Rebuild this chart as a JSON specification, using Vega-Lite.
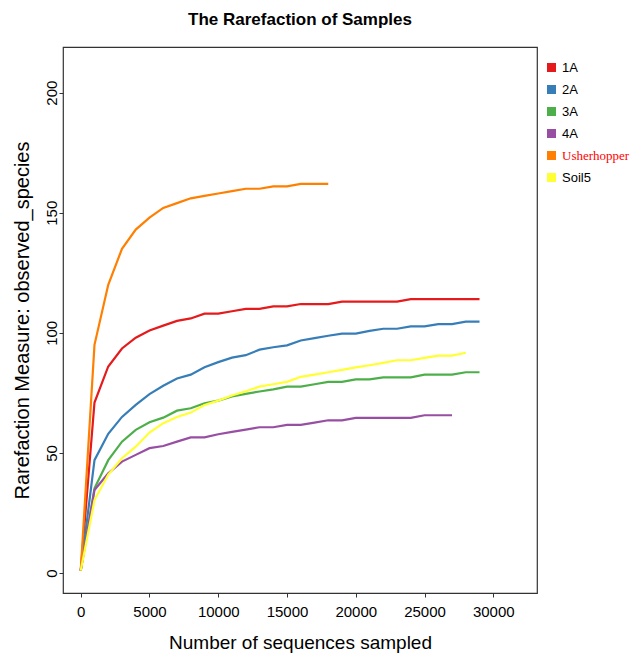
{
  "$schema": "https://vega.github.io/schema/vega-lite/v6.json",
  "autosize": "none",
  "width": 474,
  "height": 546,
  "padding": {"left": 63, "top": 47, "right": 96, "bottom": 67},
  "background": "white",
  "config": {
    "font": "Liberation Sans",
    "view": {"stroke": "#333333", "strokeWidth": 1.2}
  },
  "title": {
    "text": "The Rarefaction of Samples",
    "fontSize": 17,
    "fontWeight": "bold",
    "font": "Liberation Sans",
    "color": "black",
    "anchor": "middle",
    "offset": 18
  },
  "data": {
    "values": [
      {"s":"1A","x":0,"y":1},{"s":"1A","x":1000,"y":71},{"s":"1A","x":2000,"y":86},{"s":"1A","x":3000,"y":93.5},{"s":"1A","x":4000,"y":98},{"s":"1A","x":5000,"y":101},{"s":"1A","x":6000,"y":103},{"s":"1A","x":7000,"y":105},{"s":"1A","x":8000,"y":106},{"s":"1A","x":9000,"y":108},{"s":"1A","x":10000,"y":108},{"s":"1A","x":11000,"y":109},{"s":"1A","x":12000,"y":110},{"s":"1A","x":13000,"y":110},{"s":"1A","x":14000,"y":111},{"s":"1A","x":15000,"y":111},{"s":"1A","x":16000,"y":112},{"s":"1A","x":17000,"y":112},{"s":"1A","x":18000,"y":112},{"s":"1A","x":19000,"y":113},{"s":"1A","x":20000,"y":113},{"s":"1A","x":21000,"y":113},{"s":"1A","x":22000,"y":113},{"s":"1A","x":23000,"y":113},{"s":"1A","x":24000,"y":114},{"s":"1A","x":25000,"y":114},{"s":"1A","x":26000,"y":114},{"s":"1A","x":27000,"y":114},{"s":"1A","x":28000,"y":114},{"s":"1A","x":29000,"y":114},
      {"s":"2A","x":0,"y":1},{"s":"2A","x":1000,"y":47},{"s":"2A","x":2000,"y":58},{"s":"2A","x":3000,"y":65},{"s":"2A","x":4000,"y":70},{"s":"2A","x":5000,"y":74.5},{"s":"2A","x":6000,"y":78},{"s":"2A","x":7000,"y":81},{"s":"2A","x":8000,"y":82.6},{"s":"2A","x":9000,"y":85.7},{"s":"2A","x":10000,"y":87.8},{"s":"2A","x":11000,"y":89.7},{"s":"2A","x":12000,"y":90.7},{"s":"2A","x":13000,"y":93},{"s":"2A","x":14000,"y":94},{"s":"2A","x":15000,"y":94.8},{"s":"2A","x":16000,"y":96.8},{"s":"2A","x":17000,"y":97.8},{"s":"2A","x":18000,"y":98.8},{"s":"2A","x":19000,"y":99.7},{"s":"2A","x":20000,"y":99.7},{"s":"2A","x":21000,"y":100.8},{"s":"2A","x":22000,"y":101.7},{"s":"2A","x":23000,"y":101.7},{"s":"2A","x":24000,"y":102.7},{"s":"2A","x":25000,"y":102.7},{"s":"2A","x":26000,"y":103.6},{"s":"2A","x":27000,"y":103.6},{"s":"2A","x":28000,"y":104.7},{"s":"2A","x":29000,"y":104.7},
      {"s":"3A","x":0,"y":1},{"s":"3A","x":1000,"y":35.3},{"s":"3A","x":2000,"y":47},{"s":"3A","x":3000,"y":54.7},{"s":"3A","x":4000,"y":59.6},{"s":"3A","x":5000,"y":62.8},{"s":"3A","x":6000,"y":64.7},{"s":"3A","x":7000,"y":67.6},{"s":"3A","x":8000,"y":68.6},{"s":"3A","x":9000,"y":70.7},{"s":"3A","x":10000,"y":71.8},{"s":"3A","x":11000,"y":73.5},{"s":"3A","x":12000,"y":74.6},{"s":"3A","x":13000,"y":75.6},{"s":"3A","x":14000,"y":76.5},{"s":"3A","x":15000,"y":77.6},{"s":"3A","x":16000,"y":77.6},{"s":"3A","x":17000,"y":78.6},{"s":"3A","x":18000,"y":79.6},{"s":"3A","x":19000,"y":79.6},{"s":"3A","x":20000,"y":80.6},{"s":"3A","x":21000,"y":80.6},{"s":"3A","x":22000,"y":81.5},{"s":"3A","x":23000,"y":81.5},{"s":"3A","x":24000,"y":81.5},{"s":"3A","x":25000,"y":82.6},{"s":"3A","x":26000,"y":82.6},{"s":"3A","x":27000,"y":82.6},{"s":"3A","x":28000,"y":83.6},{"s":"3A","x":29000,"y":83.6},
      {"s":"4A","x":0,"y":1},{"s":"4A","x":1000,"y":34.6},{"s":"4A","x":2000,"y":41.5},{"s":"4A","x":3000,"y":46.4},{"s":"4A","x":4000,"y":49.2},{"s":"4A","x":5000,"y":52},{"s":"4A","x":6000,"y":52.9},{"s":"4A","x":7000,"y":54.7},{"s":"4A","x":8000,"y":56.5},{"s":"4A","x":9000,"y":56.5},{"s":"4A","x":10000,"y":57.8},{"s":"4A","x":11000,"y":58.8},{"s":"4A","x":12000,"y":59.7},{"s":"4A","x":13000,"y":60.7},{"s":"4A","x":14000,"y":60.7},{"s":"4A","x":15000,"y":61.7},{"s":"4A","x":16000,"y":61.7},{"s":"4A","x":17000,"y":62.6},{"s":"4A","x":18000,"y":63.6},{"s":"4A","x":19000,"y":63.6},{"s":"4A","x":20000,"y":64.6},{"s":"4A","x":21000,"y":64.6},{"s":"4A","x":22000,"y":64.6},{"s":"4A","x":23000,"y":64.6},{"s":"4A","x":24000,"y":64.6},{"s":"4A","x":25000,"y":65.7},{"s":"4A","x":26000,"y":65.7},{"s":"4A","x":27000,"y":65.7},
      {"s":"Usherhopper","x":0,"y":1},{"s":"Usherhopper","x":1000,"y":95},{"s":"Usherhopper","x":2000,"y":120},{"s":"Usherhopper","x":3000,"y":135},{"s":"Usherhopper","x":4000,"y":143},{"s":"Usherhopper","x":5000,"y":148},{"s":"Usherhopper","x":6000,"y":152},{"s":"Usherhopper","x":7000,"y":154},{"s":"Usherhopper","x":8000,"y":156},{"s":"Usherhopper","x":9000,"y":157},{"s":"Usherhopper","x":10000,"y":158},{"s":"Usherhopper","x":11000,"y":159},{"s":"Usherhopper","x":12000,"y":160},{"s":"Usherhopper","x":13000,"y":160},{"s":"Usherhopper","x":14000,"y":161},{"s":"Usherhopper","x":15000,"y":161},{"s":"Usherhopper","x":16000,"y":162},{"s":"Usherhopper","x":17000,"y":162},{"s":"Usherhopper","x":18000,"y":162},
      {"s":"Soil5","x":0,"y":1},{"s":"Soil5","x":1000,"y":30.4},{"s":"Soil5","x":2000,"y":41},{"s":"Soil5","x":3000,"y":47.8},{"s":"Soil5","x":4000,"y":52.6},{"s":"Soil5","x":5000,"y":58.5},{"s":"Soil5","x":6000,"y":62.4},{"s":"Soil5","x":7000,"y":65},{"s":"Soil5","x":8000,"y":66.8},{"s":"Soil5","x":9000,"y":70},{"s":"Soil5","x":10000,"y":71.8},{"s":"Soil5","x":11000,"y":73.9},{"s":"Soil5","x":12000,"y":75.7},{"s":"Soil5","x":13000,"y":77.6},{"s":"Soil5","x":14000,"y":78.6},{"s":"Soil5","x":15000,"y":79.6},{"s":"Soil5","x":16000,"y":81.7},{"s":"Soil5","x":17000,"y":82.6},{"s":"Soil5","x":18000,"y":83.6},{"s":"Soil5","x":19000,"y":84.6},{"s":"Soil5","x":20000,"y":85.6},{"s":"Soil5","x":21000,"y":86.5},{"s":"Soil5","x":22000,"y":87.5},{"s":"Soil5","x":23000,"y":88.6},{"s":"Soil5","x":24000,"y":88.6},{"s":"Soil5","x":25000,"y":89.6},{"s":"Soil5","x":26000,"y":90.5},{"s":"Soil5","x":27000,"y":90.5},{"s":"Soil5","x":28000,"y":91.7}
    ]
  },
  "mark": {"type": "line", "strokeWidth": 2.2, "interpolate": "linear"},
  "encoding": {
    "x": {
      "field": "x", "type": "quantitative",
      "scale": {"domain": [-1290, 33180], "nice": false, "zero": false},
      "axis": {
        "values": [0, 5000, 10000, 15000, 20000, 25000, 30000],
        "format": "d",
        "domain": false, "grid": false,
        "tickSize": 4, "tickColor": "#333", "tickWidth": 1,
        "labelFontSize": 15, "labelColor": "black", "labelPadding": 7,
        "title": "Number of sequences sampled",
        "titleFontSize": 19, "titleFontWeight": "normal", "titleColor": "black",
        "titlePadding": 14
      }
    },
    "y": {
      "field": "y", "type": "quantitative",
      "scale": {"domain": [-8.3, 219], "nice": false, "zero": false},
      "axis": {
        "values": [0, 50, 100, 150, 200],
        "domain": false, "grid": false,
        "tickSize": 4, "tickColor": "#333", "tickWidth": 1,
        "labelAngle": -90, "labelAlign": "center", "labelBaseline": "bottom",
        "labelFontSize": 15, "labelColor": "black", "labelPadding": 0,
        "title": "Rarefaction Measure: observed_species",
        "titleFontSize": 20, "titleFontWeight": "normal", "titleColor": "black",
        "titlePadding": 12
      }
    },
    "color": {
      "field": "s", "type": "nominal",
      "scale": {
        "domain": ["1A", "2A", "3A", "4A", "Usherhopper", "Soil5"],
        "range": ["#E41A1C", "#377EB8", "#4DAF4A", "#984EA3", "#FF7F00", "#FFFF33"]
      },
      "legend": {
        "title": null,
        "orient": "none",
        "legendX": 482,
        "legendY": 14,
        "padding": 0,
        "symbolType": "square",
        "symbolSize": 4,
        "symbolStrokeWidth": 7,
        "symbolOpacity": 1,
        "labelFontSize": 13,
        "labelOffset": 4,
        "rowPadding": -13,
        "labelColor": {"expr": "datum.label == 'Usherhopper' ? 'red' : 'black'"},
        "labelFont": {"expr": "datum.label == 'Usherhopper' ? 'Liberation Serif' : 'Liberation Sans'"}
      }
    },
    "order": {"field": "x", "type": "quantitative"}
  }
}
